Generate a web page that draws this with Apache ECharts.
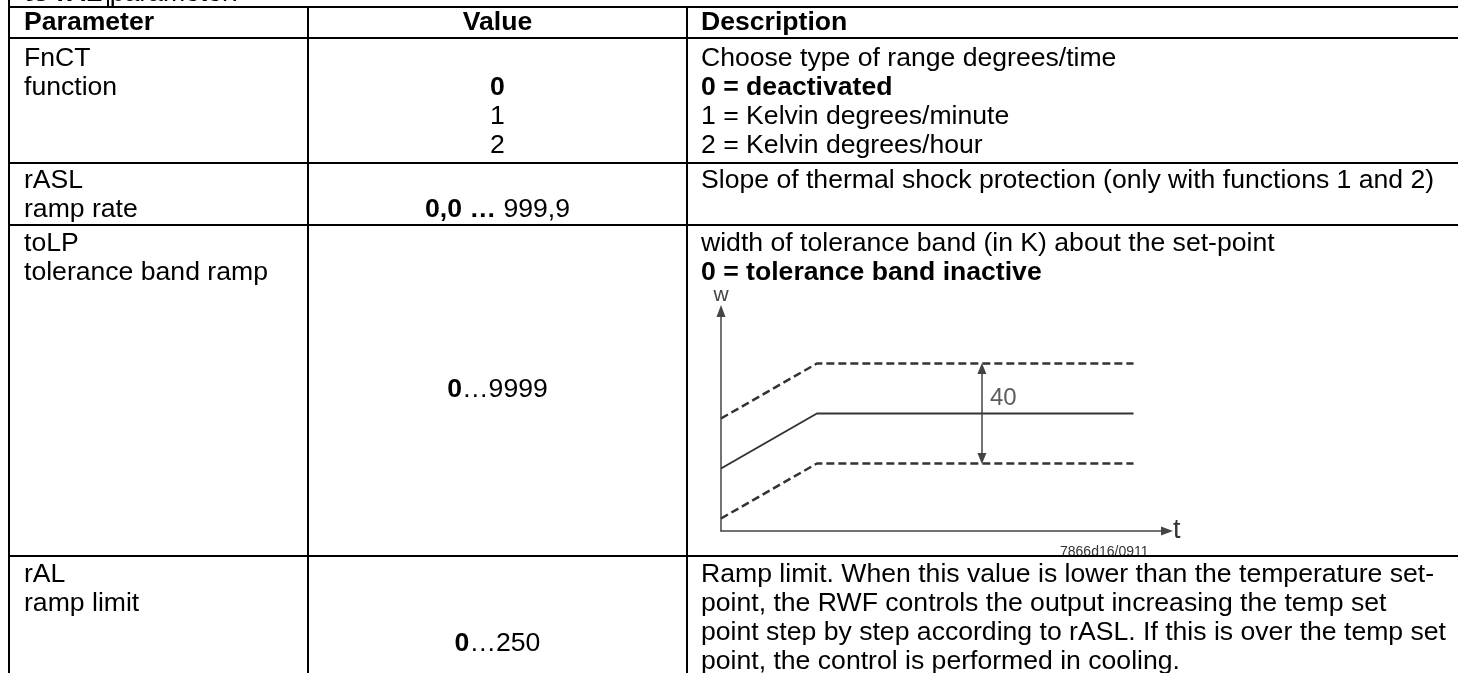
<!DOCTYPE html>
<html><head><meta charset="utf-8">
<script src="https://cdn.jsdelivr.net/npm/echarts@6/dist/echarts.min.js"></script>
<style>html,body{margin:0;padding:0;background:#fff}#c{width:1458px;height:673px}</style>
</head><body><div id="c"></div>
<script>
// ---------- diagram data (tolerance band ramp sketch) ----------
const timeRange = [0, 100];
const valueRange = [0, 88];
const setpointRamp = [[0, 25], [21.5, 47], [92.5, 47]];
const upperBand = [[0, 45], [21.5, 67], [92.5, 67]];
const lowerBand = [[0, 5], [21.5, 27], [92.5, 27]];
const bandArrow = [[58.5, 29], [58.5, 65]];
const bandLabel = [[58.5, 53.2, '40']];
const axisNames = ['t', 'w'];
const drawingCode = '7866d16/0911';

// ---------- table content ----------
const topNote = ['**to rAL**', 'parameter:'];
const headers = ['**Parameter**', '**Value**', '**Description**'];
const paramCol = [
  ['FnCT', 'function'],
  ['rASL', 'ramp rate'],
  ['toLP', 'tolerance band ramp'],
  ['rAL', 'ramp limit']
];
const valueCol = [
  ['', '**0**', '1', '2'],
  ['', '**0,0 …** 999,9'],
  ['**0**…9999'],
  ['**0**…250']
];
const descCol = [
  ['Choose type of range degrees/time', '**0 = deactivated**', '1 = Kelvin degrees/minute', '2 = Kelvin degrees/hour'],
  ['Slope of thermal shock protection (only with functions 1 and 2)'],
  ['width of tolerance band (in K) about the set-point', '**0 = tolerance band inactive**'],
  ['Ramp limit. When this value is lower than the temperature set-',
   'point, the RWF controls the output increasing the temp set',
   'point step by step according to rASL. If this is over the temp set',
   'point, the control is performed in cooling.']
];

// ---------- layout ----------
const FONT = '"Liberation Sans", Arial, Helvetica, sans-serif';
const FS = 26.6, LH = 29;
const colX = [9, 308, 687];
const textX = [24, 497.5, 701];
const hLines = [7, 38, 163, 225, 556];
const headerY = 23;
const rowFirstY = [59, 181, 244, 575];
const valueCenterY = [null, null, 390, 644];

function toRich(s) {
  return s.split(/(\*\*[^*]+\*\*)/).filter(p => p.length).map(p =>
    p.startsWith('**') ? '{b|' + p.slice(2, -2) + '}' : '{n|' + p + '}').join('');
}
const rich = {
  n: { fontFamily: FONT, fontSize: FS, fontWeight: 'normal', fill: '#000', color: '#000' },
  b: { fontFamily: FONT, fontSize: FS, fontWeight: 'bold', fill: '#000', color: '#000' }
};
function txt(s, x, y, align) {
  return {
    type: 'text', z: 10, silent: true,
    style: {
      text: toRich(s), x: x, y: y,
      textAlign: align, align: align,
      textVerticalAlign: 'middle', verticalAlign: 'middle',
      font: FS + 'px ' + FONT, fill: '#000', rich: rich
    }
  };
}
function line(x1, y1, x2, y2) {
  return { type: 'line', z: 20, silent: true, shape: { x1, y1, x2, y2 }, style: { stroke: '#000', lineWidth: 2 } };
}

const els = [];
// top cut-off note
els.push(txt(topNote.join(' '), 24, -6, 'left'));
// headers
els.push(txt(headers[0], textX[0], headerY, 'left'));
els.push(txt(headers[1], textX[1], headerY, 'center'));
els.push(txt(headers[2], textX[2], headerY, 'left'));
// rows
for (let r = 0; r < paramCol.length; r++) {
  paramCol[r].forEach((s, i) => els.push(txt(s, textX[0], rowFirstY[r] + i * LH, 'left')));
  if (valueCenterY[r] != null) {
    valueCol[r].forEach((s, i) => els.push(txt(s, textX[1], valueCenterY[r] + i * LH, 'center')));
  } else {
    valueCol[r].forEach((s, i) => { if (s) els.push(txt(s, textX[1], rowFirstY[r] + i * LH, 'center')); });
  }
  descCol[r].forEach((s, i) => els.push(txt(s, textX[2], rowFirstY[r] + i * LH, 'left')));
}
// drawing code under the sketch (clipped by the row border like in the source)
els.push({
  type: 'text', z: 10, silent: true,
  style: { text: drawingCode, x: 1060, y: 552, textAlign: 'left', align: 'left',
    textVerticalAlign: 'middle', verticalAlign: 'middle', font: '14px ' + FONT, fill: '#333' }
});
els.push({ type: 'rect', z: 15, silent: true, shape: { x: 1050, y: 556, width: 120, height: 7 }, style: { fill: '#fff' } });
// borders
hLines.forEach(y => els.push(line(colX[0], y, 1458, y)));
els.push(line(colX[0], 0, colX[0], 673));
els.push(line(colX[1], hLines[0], colX[1], 673));
els.push(line(colX[2], hLines[0], colX[2], 673));
els.push(line(108, 0, 108, hLines[0]));

const dashed = { color: '#333', width: 2.5, type: [8, 4] };
const axisCommon = {
  type: 'value',
  nameLocation: 'end',
  axisTick: { show: false }, axisLabel: { show: false }, splitLine: { show: false },
  axisLine: { show: true, symbol: ['none', 'triangle'], symbolSize: [9, 12], lineStyle: { color: '#444', width: 1.5 } }
};

const option = {
  animation: false,
  backgroundColor: '#fff',
  grid: { left: 721, top: 311, width: 446, height: 220, containLabel: false, outerBoundsMode: 'none' },
  xAxis: Object.assign({}, axisCommon, {
    min: timeRange[0], max: timeRange[1], name: axisNames[0], nameGap: 6,
    nameTextStyle: { fontFamily: FONT, fontSize: 27, color: '#333', align: 'left', verticalAlign: 'middle' }
  }),
  yAxis: Object.assign({}, axisCommon, {
    min: valueRange[0], max: valueRange[1], name: axisNames[1], nameGap: 16,
    nameTextStyle: { fontFamily: FONT, fontSize: 21, color: '#444', align: 'center', verticalAlign: 'middle' }
  }),
  series: [
    { type: 'line', data: upperBand, symbol: 'none', silent: true, lineStyle: dashed },
    {
      type: 'line', data: setpointRamp, symbol: 'none', silent: true,
      lineStyle: { color: '#333', width: 2 },
      markLine: {
        silent: true, symbol: ['triangle', 'triangle'], symbolSize: [9, 11],
        label: { show: false },
        lineStyle: { color: '#444', width: 1.5, type: 'solid' },
        data: [[{ coord: bandArrow[0] }, { coord: bandArrow[1] }]]
      }
    },
    { type: 'line', data: lowerBand, symbol: 'none', silent: true, lineStyle: dashed },
    {
      type: 'scatter', data: bandLabel, symbolSize: 0, silent: true,
      label: { show: true, position: 'right', distance: 8, formatter: p => p.data[2],
        fontFamily: FONT, fontSize: 24, color: '#333' }
    }
  ],
  graphic: { elements: els }
};

const chart = echarts.init(document.getElementById('c'), null, { renderer: 'canvas' });
chart.setOption(option);
</script>
</body></html>
